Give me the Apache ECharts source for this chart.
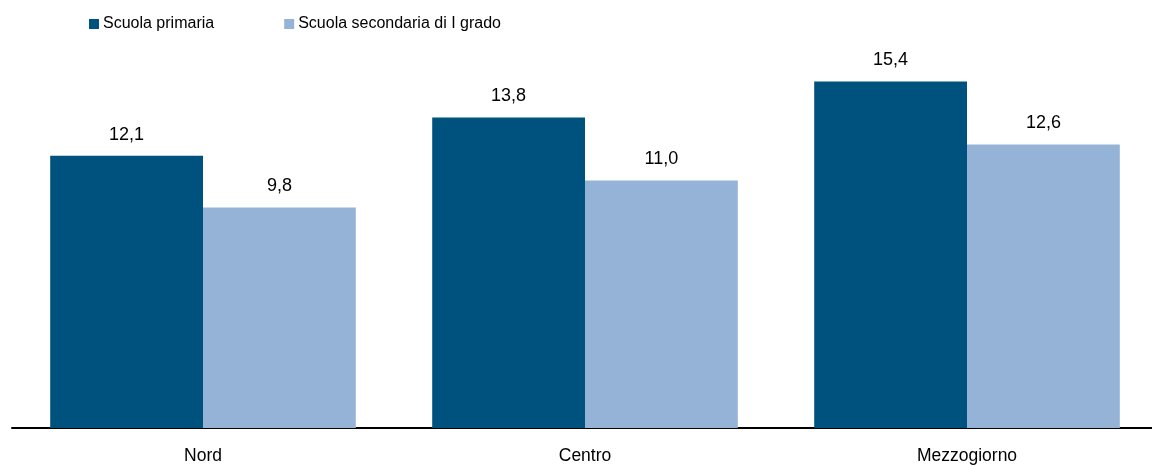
<!DOCTYPE html>
<html>
<head>
<meta charset="utf-8">
<script src="https://cdn.jsdelivr.net/npm/echarts@6/dist/echarts.min.js"></script>
<style>
html,body{margin:0;padding:0;background:#fff;overflow:hidden;}
#c{width:1158px;height:465px;}
</style>
</head>
<body>
<div id="c"></div>
<script>
const categories = ['Nord', 'Centro', 'Mezzogiorno'];
const seriesNames = ['Scuola primaria', 'Scuola secondaria di I grado'];
const primaria = [12.1, 13.8, 15.4];
const secondaria = [9.8, 11.0, 12.6];

const FONT = "'Liberation Sans Narrow', 'Arial Narrow', 'Liberation Sans', Arial, sans-serif";
const fmt = p => p.value.toFixed(1).replace('.', ',');

const chart = echarts.init(document.getElementById('c'), null, {renderer: 'canvas'});
chart.setOption({
  animation: false,
  backgroundColor: '#ffffff',
  textStyle: {fontFamily: FONT},
  legend: {
    left: 84, top: 11,
    itemWidth: 10, itemHeight: 10, itemGap: 70,
    icon: 'rect',
    textStyle: {fontFamily: FONT, fontSize: 16, color: '#000', padding: [0,0,0,-1]},
    data: seriesNames
  },
  grid: {left: 12, top: 23, right: 0, height: 406, containLabel: false},
  xAxis: {
    type: 'category',
    data: categories,
    axisLine: {lineStyle: {color: '#000', width: 2}},
    axisTick: {show: false},
    axisLabel: {fontFamily: FONT, fontSize: 17.5, color: '#000', margin: 19}
  },
  yAxis: {
    type: 'value', min: 0, max: 18, show: false,
    splitLine: {show: false}
  },
  series: [
    {
      name: seriesNames[0], type: 'bar', data: primaria,
      barGap: '0%', barCategoryGap: '20%',
      itemStyle: {color: '#00527E'},
      label: {show: true, position: 'top', distance: 12, fontFamily: FONT, fontSize: 18, color: '#000', formatter: fmt}
    },
    {
      name: seriesNames[1], type: 'bar', data: secondaria,
      barGap: '0%', barCategoryGap: '20%',
      itemStyle: {color: '#95B3D7'},
      label: {show: true, position: 'top', distance: 12, fontFamily: FONT, fontSize: 18, color: '#000', formatter: fmt}
    }
  ]
});
</script>
</body>
</html>
